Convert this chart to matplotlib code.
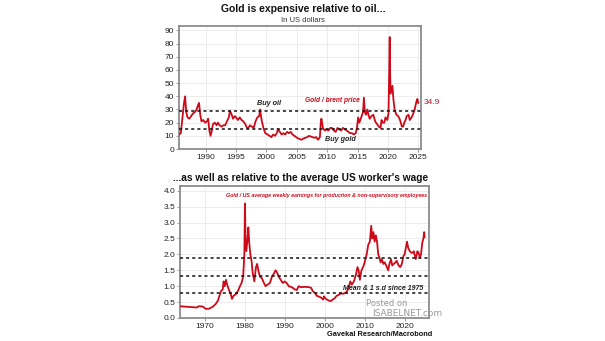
import matplotlib
matplotlib.use("Agg")
import matplotlib.pyplot as plt
import numpy as np

plt.rcParams['font.family'] = ['Liberation Sans Narrow', 'Liberation Sans', 'DejaVu Sans']

# ---- Top chart: Gold / Brent price ----
oil_years = [1985.6, 1985.9, 1986.2, 1986.4, 1986.6, 1986.8, 1987.0, 1987.3, 1987.6, 1987.9,
             1988.2, 1988.5, 1988.7, 1988.9, 1989.1, 1989.3, 1989.6, 1989.9, 1990.2, 1990.4,
             1990.6, 1990.8, 1991.0, 1991.2, 1991.5, 1991.8, 1992.0, 1992.3, 1992.6, 1992.9,
             1993.2, 1993.5, 1993.8, 1994.0, 1994.2, 1994.5, 1994.8, 1995.0, 1995.3, 1995.6,
             1995.9, 1996.2, 1996.5, 1996.8, 1997.0, 1997.3, 1997.6, 1997.9, 1998.2, 1998.5,
             1998.8, 1998.95, 1999.2, 1999.5, 1999.8, 2000.2, 2000.5, 2000.8, 2001.1, 2001.4,
             2001.7, 2001.9, 2002.2, 2002.5, 2002.8, 2003.1, 2003.4, 2003.7, 2004.0, 2004.3,
             2004.6, 2004.9, 2005.2, 2005.5, 2005.8, 2006.1, 2006.4, 2006.7, 2007.0, 2007.3,
             2007.6, 2007.9, 2008.2, 2008.5, 2008.8, 2008.95, 2009.05, 2009.3, 2009.6, 2009.9,
             2010.2, 2010.5, 2010.8, 2011.1, 2011.4, 2011.7, 2012.0, 2012.3, 2012.6, 2012.9,
             2013.2, 2013.5, 2013.8, 2014.1, 2014.4, 2014.7, 2014.9, 2015.1, 2015.3, 2015.6,
             2015.9, 2016.05, 2016.2, 2016.4, 2016.6, 2016.8, 2017.0, 2017.3, 2017.6, 2017.9,
             2018.2, 2018.5, 2018.8, 2018.95, 2019.1, 2019.4, 2019.6, 2019.9, 2020.1, 2020.3,
             2020.35, 2020.45, 2020.6, 2020.75, 2020.9, 2021.1, 2021.4, 2021.7, 2022.0, 2022.3,
             2022.5, 2022.7, 2022.9, 2023.1, 2023.4, 2023.6, 2023.9, 2024.1, 2024.4, 2024.7,
             2024.85, 2025.0]
oil_ratio = [11, 12, 25, 34, 40, 28, 24, 23, 25, 27,
             28, 30, 33, 35, 26, 21, 22, 20, 21, 23,
             14, 10, 14, 19, 20, 18, 20, 18, 17, 18,
             18, 21, 24, 29, 27, 23, 25, 24, 22, 24,
             22, 21, 19, 16, 16, 18, 17, 16, 21, 24,
             25, 30, 22, 16, 12, 11, 10, 9, 11, 10,
             12, 15, 13, 11, 12, 11, 13, 12, 13, 11,
             10, 9, 8, 7.5, 7, 8, 8.5, 9, 10, 9.5,
             9, 8.5, 9, 7, 9, 20, 23, 16, 14, 15,
             14, 16, 16, 14, 13, 16, 15, 14, 16, 15,
             14, 13, 12, 12, 11, 12, 16, 24, 20, 24,
             28, 39, 28, 26, 30, 26, 23, 25, 26, 21,
             19, 17, 16, 22, 20, 20, 24, 22, 27, 85,
             60, 42, 45, 48, 38, 30, 26, 25, 22, 17,
             17, 20, 22, 25, 26, 22, 24, 26, 30, 36,
             38, 35]
oil_levels = [28.5, 15.5]
oil_yticks = [0, 10, 20, 30, 40, 50, 60, 70, 80, 90]
oil_xticks = [1990, 1995, 2000, 2005, 2010, 2015, 2020, 2025]
oil_last = "34.9"

# ---- Bottom chart: Gold / US average weekly earnings ----
wage_years = [1963.8, 1968.0, 1968.5, 1969.5, 1970.2, 1971.0, 1972.0, 1972.8, 1973.3, 1973.8,
              1974.1, 1974.5, 1974.7, 1975.0, 1975.3, 1975.6, 1976.0, 1976.5, 1976.8, 1977.2,
              1977.8, 1978.3, 1978.8, 1979.2, 1979.6, 1979.9, 1980.05, 1980.2, 1980.4, 1980.7,
              1980.9, 1981.1, 1981.4, 1981.7, 1982.0, 1982.4, 1982.8, 1983.1, 1983.4, 1983.8,
              1984.3, 1984.8, 1985.2, 1985.7, 1986.3, 1986.8, 1987.3, 1987.7, 1988.0, 1988.5,
              1989.0, 1989.5, 1990.0, 1990.5, 1991.0, 1991.5, 1992.0, 1992.5, 1993.0, 1993.5,
              1994.0, 1995.0, 1996.0, 1996.6, 1997.0, 1997.6, 1998.0, 1998.6, 1999.0, 1999.6,
              1999.8, 2000.3, 2001.0, 2001.5, 2002.0, 2002.5, 2003.0, 2003.5, 2004.0, 2004.5,
              2005.0, 2005.5, 2006.0, 2006.4, 2006.8, 2007.3, 2007.8, 2008.2, 2008.5, 2008.8,
              2009.2, 2009.6, 2010.0, 2010.5, 2010.9, 2011.3, 2011.65, 2011.9, 2012.2, 2012.5,
              2012.8, 2013.1, 2013.4, 2013.7, 2014.0, 2014.3, 2014.7, 2015.0, 2015.4, 2015.9,
              2016.2, 2016.6, 2016.9, 2017.3, 2017.7, 2018.0, 2018.5, 2018.9, 2019.3, 2019.7,
              2020.0, 2020.6, 2020.9, 2021.3, 2021.7, 2022.0, 2022.3, 2022.8, 2023.2, 2023.5,
              2023.8, 2024.1, 2024.4, 2024.7, 2024.9, 2025.0]
wage_ratio = [0.37, 0.33, 0.37, 0.36, 0.29, 0.29, 0.35, 0.45, 0.55, 0.75,
              0.85, 0.9, 1.15, 1.0, 1.2, 1.05, 0.9, 0.75, 0.6, 0.7,
              0.75, 0.85, 1.0, 1.1, 1.3, 2.0, 3.6, 2.5, 2.1, 2.5,
              2.85, 2.4, 2.0, 1.8, 1.4, 1.15, 1.6, 1.7, 1.5, 1.3,
              1.25, 1.1, 1.0, 1.05, 1.1, 1.3, 1.4, 1.5, 1.45, 1.3,
              1.2, 1.1, 1.15, 1.1, 1.0, 0.98, 0.95, 0.9, 0.88, 1.0,
              0.97, 0.98, 0.97, 0.95, 0.85, 0.78, 0.7, 0.67, 0.65, 0.58,
              0.68, 0.6, 0.55, 0.53, 0.58, 0.62, 0.7, 0.72, 0.78, 0.76,
              0.78, 0.82, 0.95, 1.15, 1.05, 1.15, 1.35, 1.6, 1.5, 1.2,
              1.5, 1.6, 1.75, 2.0, 2.3, 2.4, 2.9, 2.5, 2.7, 2.4,
              2.6, 2.4, 2.0, 1.9, 1.75, 1.85, 1.7, 1.75, 1.65, 1.5,
              1.7, 1.85, 1.65, 1.7, 1.75, 1.8, 1.65, 1.6, 1.7, 1.95,
              2.0, 2.4, 2.2, 2.1, 2.05, 2.05, 2.1, 1.85, 2.1, 2.05,
              1.9, 2.0, 2.35, 2.5, 2.7, 2.55]
wage_levels = [1.9, 1.33, 0.78]
wage_yticks = [0.0, 0.5, 1.0, 1.5, 2.0, 2.5, 3.0, 3.5, 4.0]
wage_xticks = [1970, 1980, 1990, 2000, 2010, 2020]

RED = '#cc0a1a'
FRAME = '#8c8c8c'
W, H = 605, 341

fig = plt.figure(figsize=(W / 100, H / 100), dpi=100)
fig.patch.set_facecolor('white')


def px_axes(x0, y0, x1, y1):
    return fig.add_axes([x0 / W, 1 - y1 / H, (x1 - x0) / W, (y1 - y0) / H])


def style(ax):
    for s in ax.spines.values():
        s.set_color(FRAME)
        s.set_linewidth(1.3)
    ax.grid(True, color='#ececec', linewidth=0.7)
    ax.set_axisbelow(True)
    ax.tick_params(axis='both', labelsize=6, length=2, width=0.6, color=FRAME,
                   pad=1.5, labelcolor='#222222')


# Top
ax1 = px_axes(179, 26, 421, 149)
style(ax1)
ax1.plot(oil_years, oil_ratio, color=RED, lw=1.3, zorder=3)
for lv in oil_levels:
    ax1.axhline(lv, color='#111111', lw=1.1, ls=(0, (2, 2)), zorder=4)
ax1.set_xlim(1985.6, 2025.45)
ax1.set_ylim(0, 93.4)
ax1.set_yticks(oil_yticks)
ax1.set_xticks(oil_xticks)
ax1.text(2000.5, 34.8, 'Buy oil', fontsize=5.2, style='italic', fontweight='bold',
         color='#222222', ha='center', va='center')
ax1.text(2010.9, 36.8, 'Gold / brent price', fontsize=4.8, style='italic', fontweight='bold',
         color=RED, ha='center', va='center')
ax1.text(2012.2, 7, 'Buy gold', fontsize=5.2, style='italic', fontweight='bold',
         color='#222222', ha='center', va='center')
fig.text(432 / W, 1 - 103 / H, oil_last, fontsize=6, color=RED, ha='center', va='center')

fig.text(303 / W, 1 - 9 / H, 'Gold is expensive relative to oil...', fontsize=7.5,
         fontweight='bold', ha='center', va='center', color='#111111')
fig.text(303 / W, 1 - 20 / H, 'In US dollars', fontsize=5.5, ha='center', va='center',
         color='#333333')

# Bottom
ax2 = px_axes(180, 186, 429, 318)
style(ax2)
ax2.plot(wage_years, wage_ratio, color=RED, lw=1.3, zorder=3)
for lv in wage_levels:
    ax2.axhline(lv, color='#111111', lw=1.1, ls=(0, (2, 2)), zorder=4)
ax2.set_xlim(1963.8, 2026.1)
ax2.set_ylim(0, 4.15)
ax2.set_yticks(wage_yticks)
ax2.set_yticklabels([f'{v:.1f}' for v in wage_yticks])
ax2.set_xticks(wage_xticks)
ax2.text(0.99, 0.925,
         'Gold / US average weekly earnings for production & non-supervisory employees',
         transform=ax2.transAxes, fontsize=3.8, style='italic', fontweight='bold',
         color=RED, ha='right', va='center')
ax2.text(0.975, 0.92 / 4.15, 'Mean & 1 s.d since 1975', transform=ax2.transAxes,
         fontsize=5.0, style='italic', fontweight='bold', color='#222222',
         ha='right', va='center')

fig.text(301 / W, 1 - 178 / H, "...as well as relative to the average US worker's wage",
         fontsize=7.3, fontweight='bold', ha='center', va='center', color='#111111')
fig.text(432 / W, 1 - 335 / H, 'Gavekal Research/Macrobond', fontsize=5.3,
         fontweight='bold', ha='right', va='center', color='#111111')

# watermark
fig.text(387 / W, 1 - 304 / H, 'Posted on', fontsize=6, color='#9a9a9a',
         ha='center', va='center', family=['DejaVu Sans'])
fig.text(407 / W, 1 - 314 / H, 'ISABELNET.com', fontsize=6.5, color='#9a9a9a',
         ha='center', va='center', family=['DejaVu Sans'])

fig.savefig('out.png', dpi=100, facecolor='white')
